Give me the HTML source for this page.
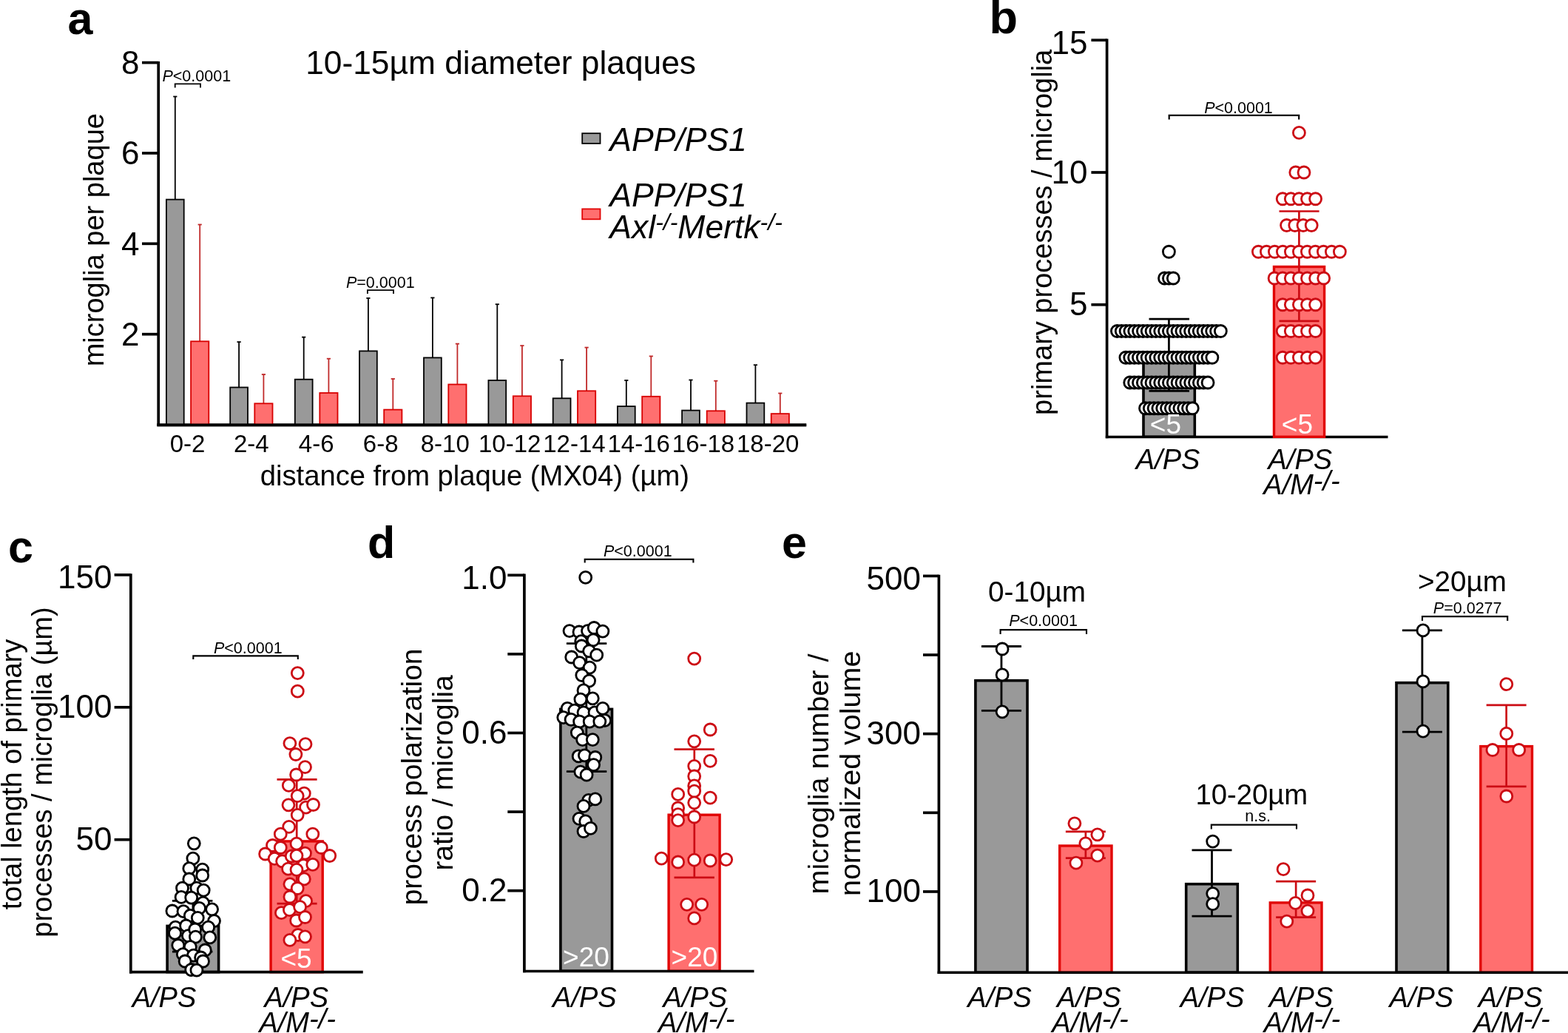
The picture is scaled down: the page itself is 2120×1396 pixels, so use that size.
<!DOCTYPE html><html><head><meta charset="utf-8"><style>html,body{margin:0;padding:0;background:#fff;}svg{display:block;}</style></head><body><svg width="2120" height="1396" viewBox="0 0 2120 1396" font-family="'Liberation Sans', Arial, Helvetica, sans-serif"><rect width="2120" height="1396" fill="#fff"/><text x="91.50" y="46.00" font-size="61" text-anchor="start" font-weight="bold" font-style="normal" fill="#000">a</text>
<line x1="214.20" y1="82.95" x2="214.20" y2="575.80" stroke="#000" stroke-width="3.7" stroke-linecap="butt"/>
<line x1="212.40" y1="574.30" x2="1090.20" y2="574.30" stroke="#000" stroke-width="3.7" stroke-linecap="butt"/>
<line x1="192.00" y1="84.64" x2="214.20" y2="84.64" stroke="#000" stroke-width="3.7" stroke-linecap="butt"/>
<text x="188.50" y="100.14" font-size="44" text-anchor="end" font-weight="normal" font-style="normal" fill="#000">8</text>
<line x1="192.00" y1="206.98" x2="214.20" y2="206.98" stroke="#000" stroke-width="3.7" stroke-linecap="butt"/>
<text x="188.50" y="222.48" font-size="44" text-anchor="end" font-weight="normal" font-style="normal" fill="#000">6</text>
<line x1="192.00" y1="329.32" x2="214.20" y2="329.32" stroke="#000" stroke-width="3.7" stroke-linecap="butt"/>
<text x="188.50" y="344.82" font-size="44" text-anchor="end" font-weight="normal" font-style="normal" fill="#000">4</text>
<line x1="192.00" y1="451.66" x2="214.20" y2="451.66" stroke="#000" stroke-width="3.7" stroke-linecap="butt"/>
<text x="188.50" y="467.16" font-size="44" text-anchor="end" font-weight="normal" font-style="normal" fill="#000">2</text>
<text x="140.20" y="324.20" font-size="38" text-anchor="middle" font-weight="normal" font-style="normal" fill="#000" transform="rotate(-90 140.20 324.20)">microglia per plaque</text>
<line x1="236.80" y1="130.40" x2="236.80" y2="269.70" stroke="#000" stroke-width="1.8" stroke-linecap="butt"/>
<line x1="234.20" y1="130.50" x2="239.40" y2="130.50" stroke="#000" stroke-width="1.8" stroke-linecap="butt"/>
<line x1="270.20" y1="303.40" x2="270.20" y2="461.40" stroke="#c02a2a" stroke-width="1.8" stroke-linecap="butt"/>
<line x1="267.60" y1="303.50" x2="272.80" y2="303.50" stroke="#c02a2a" stroke-width="1.8" stroke-linecap="butt"/>
<rect x="224.90" y="269.60" width="23.80" height="304.00" fill="#999999" stroke="#000" stroke-width="1.8"/>
<rect x="258.10" y="461.30" width="24.20" height="112.30" fill="#ff6f6f" stroke="#d80000" stroke-width="1.8"/>
<text x="253.60" y="610.80" font-size="33" text-anchor="middle" font-weight="normal" font-style="normal" fill="#000">0-2</text>
<line x1="323.10" y1="462.00" x2="323.10" y2="523.60" stroke="#000" stroke-width="1.8" stroke-linecap="butt"/>
<line x1="320.50" y1="462.10" x2="325.70" y2="462.10" stroke="#000" stroke-width="1.8" stroke-linecap="butt"/>
<line x1="356.40" y1="505.90" x2="356.40" y2="545.40" stroke="#c02a2a" stroke-width="1.8" stroke-linecap="butt"/>
<line x1="353.80" y1="506.00" x2="359.00" y2="506.00" stroke="#c02a2a" stroke-width="1.8" stroke-linecap="butt"/>
<rect x="311.20" y="523.50" width="23.80" height="50.10" fill="#999999" stroke="#000" stroke-width="1.8"/>
<rect x="344.30" y="545.30" width="24.20" height="28.30" fill="#ff6f6f" stroke="#d80000" stroke-width="1.8"/>
<text x="339.85" y="610.80" font-size="33" text-anchor="middle" font-weight="normal" font-style="normal" fill="#000">2-4</text>
<line x1="410.70" y1="455.50" x2="410.70" y2="512.80" stroke="#000" stroke-width="1.8" stroke-linecap="butt"/>
<line x1="408.10" y1="455.60" x2="413.30" y2="455.60" stroke="#000" stroke-width="1.8" stroke-linecap="butt"/>
<line x1="444.40" y1="484.60" x2="444.40" y2="531.10" stroke="#c02a2a" stroke-width="1.8" stroke-linecap="butt"/>
<line x1="441.80" y1="484.70" x2="447.00" y2="484.70" stroke="#c02a2a" stroke-width="1.8" stroke-linecap="butt"/>
<rect x="398.80" y="512.70" width="23.80" height="60.90" fill="#999999" stroke="#000" stroke-width="1.8"/>
<rect x="432.30" y="531.00" width="24.20" height="42.60" fill="#ff6f6f" stroke="#d80000" stroke-width="1.8"/>
<text x="427.65" y="610.80" font-size="33" text-anchor="middle" font-weight="normal" font-style="normal" fill="#000">4-6</text>
<line x1="497.90" y1="402.80" x2="497.90" y2="474.50" stroke="#000" stroke-width="1.8" stroke-linecap="butt"/>
<line x1="495.30" y1="402.90" x2="500.50" y2="402.90" stroke="#000" stroke-width="1.8" stroke-linecap="butt"/>
<line x1="531.30" y1="511.90" x2="531.30" y2="553.70" stroke="#c02a2a" stroke-width="1.8" stroke-linecap="butt"/>
<line x1="528.70" y1="512.00" x2="533.90" y2="512.00" stroke="#c02a2a" stroke-width="1.8" stroke-linecap="butt"/>
<rect x="486.00" y="474.40" width="23.80" height="99.20" fill="#999999" stroke="#000" stroke-width="1.8"/>
<rect x="519.20" y="553.60" width="24.20" height="20.00" fill="#ff6f6f" stroke="#d80000" stroke-width="1.8"/>
<text x="514.70" y="610.80" font-size="33" text-anchor="middle" font-weight="normal" font-style="normal" fill="#000">6-8</text>
<line x1="584.90" y1="402.30" x2="584.90" y2="483.50" stroke="#000" stroke-width="1.8" stroke-linecap="butt"/>
<line x1="582.30" y1="402.40" x2="587.50" y2="402.40" stroke="#000" stroke-width="1.8" stroke-linecap="butt"/>
<line x1="618.40" y1="464.50" x2="618.40" y2="519.60" stroke="#c02a2a" stroke-width="1.8" stroke-linecap="butt"/>
<line x1="615.80" y1="464.60" x2="621.00" y2="464.60" stroke="#c02a2a" stroke-width="1.8" stroke-linecap="butt"/>
<rect x="573.00" y="483.40" width="23.80" height="90.20" fill="#999999" stroke="#000" stroke-width="1.8"/>
<rect x="606.30" y="519.50" width="24.20" height="54.10" fill="#ff6f6f" stroke="#d80000" stroke-width="1.8"/>
<text x="601.75" y="610.80" font-size="33" text-anchor="middle" font-weight="normal" font-style="normal" fill="#000">8-10</text>
<line x1="672.30" y1="411.10" x2="672.30" y2="514.10" stroke="#000" stroke-width="1.8" stroke-linecap="butt"/>
<line x1="669.70" y1="411.20" x2="674.90" y2="411.20" stroke="#000" stroke-width="1.8" stroke-linecap="butt"/>
<line x1="705.90" y1="467.00" x2="705.90" y2="535.40" stroke="#c02a2a" stroke-width="1.8" stroke-linecap="butt"/>
<line x1="703.30" y1="467.10" x2="708.50" y2="467.10" stroke="#c02a2a" stroke-width="1.8" stroke-linecap="butt"/>
<rect x="660.40" y="514.00" width="23.80" height="59.60" fill="#999999" stroke="#000" stroke-width="1.8"/>
<rect x="693.80" y="535.30" width="24.20" height="38.30" fill="#ff6f6f" stroke="#d80000" stroke-width="1.8"/>
<text x="689.20" y="610.80" font-size="33" text-anchor="middle" font-weight="normal" font-style="normal" fill="#000">10-12</text>
<line x1="759.60" y1="486.30" x2="759.60" y2="538.40" stroke="#000" stroke-width="1.8" stroke-linecap="butt"/>
<line x1="757.00" y1="486.40" x2="762.20" y2="486.40" stroke="#000" stroke-width="1.8" stroke-linecap="butt"/>
<line x1="793.10" y1="469.50" x2="793.10" y2="528.40" stroke="#c02a2a" stroke-width="1.8" stroke-linecap="butt"/>
<line x1="790.50" y1="469.60" x2="795.70" y2="469.60" stroke="#c02a2a" stroke-width="1.8" stroke-linecap="butt"/>
<rect x="747.70" y="538.30" width="23.80" height="35.30" fill="#999999" stroke="#000" stroke-width="1.8"/>
<rect x="781.00" y="528.30" width="24.20" height="45.30" fill="#ff6f6f" stroke="#d80000" stroke-width="1.8"/>
<text x="776.45" y="610.80" font-size="33" text-anchor="middle" font-weight="normal" font-style="normal" fill="#000">12-14</text>
<line x1="846.80" y1="513.90" x2="846.80" y2="549.20" stroke="#000" stroke-width="1.8" stroke-linecap="butt"/>
<line x1="844.20" y1="514.00" x2="849.40" y2="514.00" stroke="#000" stroke-width="1.8" stroke-linecap="butt"/>
<line x1="880.30" y1="481.30" x2="880.30" y2="535.90" stroke="#c02a2a" stroke-width="1.8" stroke-linecap="butt"/>
<line x1="877.70" y1="481.40" x2="882.90" y2="481.40" stroke="#c02a2a" stroke-width="1.8" stroke-linecap="butt"/>
<rect x="834.90" y="549.10" width="23.80" height="24.50" fill="#999999" stroke="#000" stroke-width="1.8"/>
<rect x="868.20" y="535.80" width="24.20" height="37.80" fill="#ff6f6f" stroke="#d80000" stroke-width="1.8"/>
<text x="863.65" y="610.80" font-size="33" text-anchor="middle" font-weight="normal" font-style="normal" fill="#000">14-16</text>
<line x1="934.00" y1="513.40" x2="934.00" y2="554.70" stroke="#000" stroke-width="1.8" stroke-linecap="butt"/>
<line x1="931.40" y1="513.50" x2="936.60" y2="513.50" stroke="#000" stroke-width="1.8" stroke-linecap="butt"/>
<line x1="967.80" y1="514.60" x2="967.80" y2="555.40" stroke="#c02a2a" stroke-width="1.8" stroke-linecap="butt"/>
<line x1="965.20" y1="514.70" x2="970.40" y2="514.70" stroke="#c02a2a" stroke-width="1.8" stroke-linecap="butt"/>
<rect x="922.10" y="554.60" width="23.80" height="19.00" fill="#999999" stroke="#000" stroke-width="1.8"/>
<rect x="955.70" y="555.30" width="24.20" height="18.30" fill="#ff6f6f" stroke="#d80000" stroke-width="1.8"/>
<text x="951.00" y="610.80" font-size="33" text-anchor="middle" font-weight="normal" font-style="normal" fill="#000">16-18</text>
<line x1="1021.40" y1="493.10" x2="1021.40" y2="544.70" stroke="#000" stroke-width="1.8" stroke-linecap="butt"/>
<line x1="1018.80" y1="493.20" x2="1024.00" y2="493.20" stroke="#000" stroke-width="1.8" stroke-linecap="butt"/>
<line x1="1054.80" y1="531.40" x2="1054.80" y2="559.20" stroke="#c02a2a" stroke-width="1.8" stroke-linecap="butt"/>
<line x1="1052.20" y1="531.50" x2="1057.40" y2="531.50" stroke="#c02a2a" stroke-width="1.8" stroke-linecap="butt"/>
<rect x="1009.50" y="544.60" width="23.80" height="29.00" fill="#999999" stroke="#000" stroke-width="1.8"/>
<rect x="1042.70" y="559.10" width="24.20" height="14.50" fill="#ff6f6f" stroke="#d80000" stroke-width="1.8"/>
<text x="1038.20" y="610.80" font-size="33" text-anchor="middle" font-weight="normal" font-style="normal" fill="#000">18-20</text>
<line x1="212.40" y1="574.30" x2="1090.20" y2="574.30" stroke="#000" stroke-width="3.7" stroke-linecap="butt"/>
<text x="641.85" y="656.40" font-size="38.2" text-anchor="middle" font-weight="normal" font-style="normal" fill="#000">distance from plaque (MX04) (µm)</text>
<text x="677.10" y="100.20" font-size="44.3" text-anchor="middle" font-weight="normal" font-style="normal" fill="#000">10-15µm diameter plaques</text>
<rect x="787.20" y="180.20" width="24.30" height="13.70" fill="#999999" stroke="#000" stroke-width="1.8"/>
<rect x="787.20" y="282.40" width="24.30" height="13.90" fill="#ff6f6f" stroke="#e10505" stroke-width="1.8"/>
<text x="824.30" y="204.40" font-size="44.5" text-anchor="start" font-weight="normal" font-style="italic" fill="#000">APP/PS1</text>
<text x="824.30" y="278.60" font-size="44.5" text-anchor="start" font-weight="normal" font-style="italic" fill="#000">APP/PS1</text>
<text x="824.30" y="321.9" font-size="44.5" font-style="italic">Axl<tspan font-size="32" dy="-10.5">-/-</tspan><tspan dy="10.5">Mertk</tspan><tspan font-size="32" dy="-10.5">-/-</tspan></text>
<polyline points="236.70,118.40 236.70,113.40 271.00,113.40 271.00,118.40" fill="none" stroke="#000" stroke-width="1.8"/>
<text x="265.80" y="110.30" font-size="21.5" text-anchor="middle"><tspan font-style="italic">P</tspan>&lt;0.0001</text>
<polyline points="496.90,397.10 496.90,392.10 532.00,392.10 532.00,397.10" fill="none" stroke="#000" stroke-width="1.8"/>
<text x="514.30" y="388.50" font-size="21.5" text-anchor="middle"><tspan font-style="italic">P</tspan>=0.0001</text>
<text x="1337.50" y="45.20" font-size="63" text-anchor="start" font-weight="bold" font-style="normal" fill="#000">b</text>
<line x1="1496.60" y1="52.50" x2="1496.60" y2="592.30" stroke="#000" stroke-width="3.7" stroke-linecap="butt"/>
<line x1="1494.80" y1="590.50" x2="1876.50" y2="590.50" stroke="#000" stroke-width="3.7" stroke-linecap="butt"/>
<line x1="1475.40" y1="54.25" x2="1496.60" y2="54.25" stroke="#000" stroke-width="3.7" stroke-linecap="butt"/>
<text x="1470.50" y="72.75" font-size="44" text-anchor="end" font-weight="normal" font-style="normal" fill="#000">15</text>
<line x1="1475.40" y1="233.00" x2="1496.60" y2="233.00" stroke="#000" stroke-width="3.7" stroke-linecap="butt"/>
<text x="1470.50" y="247.50" font-size="44" text-anchor="end" font-weight="normal" font-style="normal" fill="#000">10</text>
<line x1="1475.40" y1="411.75" x2="1496.60" y2="411.75" stroke="#000" stroke-width="3.7" stroke-linecap="butt"/>
<text x="1470.50" y="426.25" font-size="44" text-anchor="end" font-weight="normal" font-style="normal" fill="#000">5</text>
<text x="1422.50" y="313.80" font-size="38" text-anchor="middle" font-weight="normal" font-style="normal" fill="#000" transform="rotate(-90 1422.50 313.80)">primary processes / microglia</text>
<rect x="1546.00" y="479.68" width="69.30" height="110.53" fill="#999999" stroke="#000" stroke-width="3.6"/>
<rect x="1722.50" y="360.50" width="68.10" height="229.80" fill="#ff6f6f" stroke="#e10505" stroke-width="3.4"/>
<line x1="1580.40" y1="431.10" x2="1580.40" y2="528.50" stroke="#000" stroke-width="2.8" stroke-linecap="butt"/>
<line x1="1553.50" y1="431.10" x2="1608.00" y2="431.10" stroke="#000" stroke-width="2.8" stroke-linecap="butt"/>
<line x1="1553.50" y1="528.30" x2="1608.00" y2="528.30" stroke="#000" stroke-width="2.8" stroke-linecap="butt"/>
<line x1="1756.40" y1="285.50" x2="1756.40" y2="433.80" stroke="#cc0c14" stroke-width="2.7" stroke-linecap="butt"/>
<line x1="1729.50" y1="285.50" x2="1783.60" y2="285.50" stroke="#cc0c14" stroke-width="2.7" stroke-linecap="butt"/>
<line x1="1729.50" y1="433.80" x2="1783.60" y2="433.80" stroke="#cc0c14" stroke-width="2.7" stroke-linecap="butt"/>
<circle cx="1580.40" cy="340.25" r="8.0" fill="#fff" stroke="#000" stroke-width="2.8"/>
<circle cx="1574.50" cy="376.00" r="8.0" fill="#fff" stroke="#000" stroke-width="2.8"/>
<circle cx="1580.40" cy="376.00" r="8.0" fill="#fff" stroke="#000" stroke-width="2.8"/>
<circle cx="1586.30" cy="376.00" r="8.0" fill="#fff" stroke="#000" stroke-width="2.8"/>
<circle cx="1510.44" cy="447.50" r="8.0" fill="#fff" stroke="#000" stroke-width="2.8"/>
<circle cx="1516.27" cy="447.50" r="8.0" fill="#fff" stroke="#000" stroke-width="2.8"/>
<circle cx="1522.10" cy="447.50" r="8.0" fill="#fff" stroke="#000" stroke-width="2.8"/>
<circle cx="1527.93" cy="447.50" r="8.0" fill="#fff" stroke="#000" stroke-width="2.8"/>
<circle cx="1533.76" cy="447.50" r="8.0" fill="#fff" stroke="#000" stroke-width="2.8"/>
<circle cx="1539.59" cy="447.50" r="8.0" fill="#fff" stroke="#000" stroke-width="2.8"/>
<circle cx="1545.42" cy="447.50" r="8.0" fill="#fff" stroke="#000" stroke-width="2.8"/>
<circle cx="1551.25" cy="447.50" r="8.0" fill="#fff" stroke="#000" stroke-width="2.8"/>
<circle cx="1557.08" cy="447.50" r="8.0" fill="#fff" stroke="#000" stroke-width="2.8"/>
<circle cx="1562.91" cy="447.50" r="8.0" fill="#fff" stroke="#000" stroke-width="2.8"/>
<circle cx="1568.74" cy="447.50" r="8.0" fill="#fff" stroke="#000" stroke-width="2.8"/>
<circle cx="1574.57" cy="447.50" r="8.0" fill="#fff" stroke="#000" stroke-width="2.8"/>
<circle cx="1580.40" cy="447.50" r="8.0" fill="#fff" stroke="#000" stroke-width="2.8"/>
<circle cx="1586.23" cy="447.50" r="8.0" fill="#fff" stroke="#000" stroke-width="2.8"/>
<circle cx="1592.06" cy="447.50" r="8.0" fill="#fff" stroke="#000" stroke-width="2.8"/>
<circle cx="1597.89" cy="447.50" r="8.0" fill="#fff" stroke="#000" stroke-width="2.8"/>
<circle cx="1603.72" cy="447.50" r="8.0" fill="#fff" stroke="#000" stroke-width="2.8"/>
<circle cx="1609.55" cy="447.50" r="8.0" fill="#fff" stroke="#000" stroke-width="2.8"/>
<circle cx="1615.38" cy="447.50" r="8.0" fill="#fff" stroke="#000" stroke-width="2.8"/>
<circle cx="1621.21" cy="447.50" r="8.0" fill="#fff" stroke="#000" stroke-width="2.8"/>
<circle cx="1627.04" cy="447.50" r="8.0" fill="#fff" stroke="#000" stroke-width="2.8"/>
<circle cx="1632.87" cy="447.50" r="8.0" fill="#fff" stroke="#000" stroke-width="2.8"/>
<circle cx="1638.70" cy="447.50" r="8.0" fill="#fff" stroke="#000" stroke-width="2.8"/>
<circle cx="1644.53" cy="447.50" r="8.0" fill="#fff" stroke="#000" stroke-width="2.8"/>
<circle cx="1650.36" cy="447.50" r="8.0" fill="#fff" stroke="#000" stroke-width="2.8"/>
<circle cx="1521.90" cy="483.25" r="8.0" fill="#fff" stroke="#000" stroke-width="2.8"/>
<circle cx="1527.75" cy="483.25" r="8.0" fill="#fff" stroke="#000" stroke-width="2.8"/>
<circle cx="1533.60" cy="483.25" r="8.0" fill="#fff" stroke="#000" stroke-width="2.8"/>
<circle cx="1539.45" cy="483.25" r="8.0" fill="#fff" stroke="#000" stroke-width="2.8"/>
<circle cx="1545.30" cy="483.25" r="8.0" fill="#fff" stroke="#000" stroke-width="2.8"/>
<circle cx="1551.15" cy="483.25" r="8.0" fill="#fff" stroke="#000" stroke-width="2.8"/>
<circle cx="1557.00" cy="483.25" r="8.0" fill="#fff" stroke="#000" stroke-width="2.8"/>
<circle cx="1562.85" cy="483.25" r="8.0" fill="#fff" stroke="#000" stroke-width="2.8"/>
<circle cx="1568.70" cy="483.25" r="8.0" fill="#fff" stroke="#000" stroke-width="2.8"/>
<circle cx="1574.55" cy="483.25" r="8.0" fill="#fff" stroke="#000" stroke-width="2.8"/>
<circle cx="1580.40" cy="483.25" r="8.0" fill="#fff" stroke="#000" stroke-width="2.8"/>
<circle cx="1586.25" cy="483.25" r="8.0" fill="#fff" stroke="#000" stroke-width="2.8"/>
<circle cx="1592.10" cy="483.25" r="8.0" fill="#fff" stroke="#000" stroke-width="2.8"/>
<circle cx="1597.95" cy="483.25" r="8.0" fill="#fff" stroke="#000" stroke-width="2.8"/>
<circle cx="1603.80" cy="483.25" r="8.0" fill="#fff" stroke="#000" stroke-width="2.8"/>
<circle cx="1609.65" cy="483.25" r="8.0" fill="#fff" stroke="#000" stroke-width="2.8"/>
<circle cx="1615.50" cy="483.25" r="8.0" fill="#fff" stroke="#000" stroke-width="2.8"/>
<circle cx="1621.35" cy="483.25" r="8.0" fill="#fff" stroke="#000" stroke-width="2.8"/>
<circle cx="1627.20" cy="483.25" r="8.0" fill="#fff" stroke="#000" stroke-width="2.8"/>
<circle cx="1633.05" cy="483.25" r="8.0" fill="#fff" stroke="#000" stroke-width="2.8"/>
<circle cx="1638.90" cy="483.25" r="8.0" fill="#fff" stroke="#000" stroke-width="2.8"/>
<circle cx="1527.75" cy="517.00" r="8.0" fill="#fff" stroke="#000" stroke-width="2.8"/>
<circle cx="1533.60" cy="517.00" r="8.0" fill="#fff" stroke="#000" stroke-width="2.8"/>
<circle cx="1539.45" cy="517.00" r="8.0" fill="#fff" stroke="#000" stroke-width="2.8"/>
<circle cx="1545.30" cy="517.00" r="8.0" fill="#fff" stroke="#000" stroke-width="2.8"/>
<circle cx="1551.15" cy="517.00" r="8.0" fill="#fff" stroke="#000" stroke-width="2.8"/>
<circle cx="1557.00" cy="517.00" r="8.0" fill="#fff" stroke="#000" stroke-width="2.8"/>
<circle cx="1562.85" cy="517.00" r="8.0" fill="#fff" stroke="#000" stroke-width="2.8"/>
<circle cx="1568.70" cy="517.00" r="8.0" fill="#fff" stroke="#000" stroke-width="2.8"/>
<circle cx="1574.55" cy="517.00" r="8.0" fill="#fff" stroke="#000" stroke-width="2.8"/>
<circle cx="1580.40" cy="517.00" r="8.0" fill="#fff" stroke="#000" stroke-width="2.8"/>
<circle cx="1586.25" cy="517.00" r="8.0" fill="#fff" stroke="#000" stroke-width="2.8"/>
<circle cx="1592.10" cy="517.00" r="8.0" fill="#fff" stroke="#000" stroke-width="2.8"/>
<circle cx="1597.95" cy="517.00" r="8.0" fill="#fff" stroke="#000" stroke-width="2.8"/>
<circle cx="1603.80" cy="517.00" r="8.0" fill="#fff" stroke="#000" stroke-width="2.8"/>
<circle cx="1609.65" cy="517.00" r="8.0" fill="#fff" stroke="#000" stroke-width="2.8"/>
<circle cx="1615.50" cy="517.00" r="8.0" fill="#fff" stroke="#000" stroke-width="2.8"/>
<circle cx="1621.35" cy="517.00" r="8.0" fill="#fff" stroke="#000" stroke-width="2.8"/>
<circle cx="1627.20" cy="517.00" r="8.0" fill="#fff" stroke="#000" stroke-width="2.8"/>
<circle cx="1633.05" cy="517.00" r="8.0" fill="#fff" stroke="#000" stroke-width="2.8"/>
<circle cx="1548.50" cy="551.75" r="8.0" fill="#fff" stroke="#000" stroke-width="2.8"/>
<circle cx="1554.30" cy="551.75" r="8.0" fill="#fff" stroke="#000" stroke-width="2.8"/>
<circle cx="1560.10" cy="551.75" r="8.0" fill="#fff" stroke="#000" stroke-width="2.8"/>
<circle cx="1565.90" cy="551.75" r="8.0" fill="#fff" stroke="#000" stroke-width="2.8"/>
<circle cx="1571.70" cy="551.75" r="8.0" fill="#fff" stroke="#000" stroke-width="2.8"/>
<circle cx="1577.50" cy="551.75" r="8.0" fill="#fff" stroke="#000" stroke-width="2.8"/>
<circle cx="1583.30" cy="551.75" r="8.0" fill="#fff" stroke="#000" stroke-width="2.8"/>
<circle cx="1589.10" cy="551.75" r="8.0" fill="#fff" stroke="#000" stroke-width="2.8"/>
<circle cx="1594.90" cy="551.75" r="8.0" fill="#fff" stroke="#000" stroke-width="2.8"/>
<circle cx="1600.70" cy="551.75" r="8.0" fill="#fff" stroke="#000" stroke-width="2.8"/>
<circle cx="1606.50" cy="551.75" r="8.0" fill="#fff" stroke="#000" stroke-width="2.8"/>
<circle cx="1612.30" cy="551.75" r="8.0" fill="#fff" stroke="#000" stroke-width="2.8"/>
<circle cx="1756.40" cy="179.38" r="8.0" fill="#fff" stroke="#cc0c14" stroke-width="2.8"/>
<circle cx="1751.80" cy="233.00" r="8.0" fill="#fff" stroke="#cc0c14" stroke-width="2.8"/>
<circle cx="1763.00" cy="233.00" r="8.0" fill="#fff" stroke="#cc0c14" stroke-width="2.8"/>
<circle cx="1734.20" cy="268.75" r="8.0" fill="#fff" stroke="#cc0c14" stroke-width="2.8"/>
<circle cx="1745.30" cy="268.75" r="8.0" fill="#fff" stroke="#cc0c14" stroke-width="2.8"/>
<circle cx="1756.40" cy="268.75" r="8.0" fill="#fff" stroke="#cc0c14" stroke-width="2.8"/>
<circle cx="1767.50" cy="268.75" r="8.0" fill="#fff" stroke="#cc0c14" stroke-width="2.8"/>
<circle cx="1778.60" cy="268.75" r="8.0" fill="#fff" stroke="#cc0c14" stroke-width="2.8"/>
<circle cx="1739.60" cy="304.50" r="8.0" fill="#fff" stroke="#cc0c14" stroke-width="2.8"/>
<circle cx="1750.80" cy="304.50" r="8.0" fill="#fff" stroke="#cc0c14" stroke-width="2.8"/>
<circle cx="1762.00" cy="304.50" r="8.0" fill="#fff" stroke="#cc0c14" stroke-width="2.8"/>
<circle cx="1773.20" cy="304.50" r="8.0" fill="#fff" stroke="#cc0c14" stroke-width="2.8"/>
<circle cx="1701.40" cy="340.25" r="8.0" fill="#fff" stroke="#cc0c14" stroke-width="2.8"/>
<circle cx="1712.40" cy="340.25" r="8.0" fill="#fff" stroke="#cc0c14" stroke-width="2.8"/>
<circle cx="1723.40" cy="340.25" r="8.0" fill="#fff" stroke="#cc0c14" stroke-width="2.8"/>
<circle cx="1734.40" cy="340.25" r="8.0" fill="#fff" stroke="#cc0c14" stroke-width="2.8"/>
<circle cx="1745.40" cy="340.25" r="8.0" fill="#fff" stroke="#cc0c14" stroke-width="2.8"/>
<circle cx="1756.40" cy="340.25" r="8.0" fill="#fff" stroke="#cc0c14" stroke-width="2.8"/>
<circle cx="1767.40" cy="340.25" r="8.0" fill="#fff" stroke="#cc0c14" stroke-width="2.8"/>
<circle cx="1778.40" cy="340.25" r="8.0" fill="#fff" stroke="#cc0c14" stroke-width="2.8"/>
<circle cx="1789.40" cy="340.25" r="8.0" fill="#fff" stroke="#cc0c14" stroke-width="2.8"/>
<circle cx="1800.40" cy="340.25" r="8.0" fill="#fff" stroke="#cc0c14" stroke-width="2.8"/>
<circle cx="1811.40" cy="340.25" r="8.0" fill="#fff" stroke="#cc0c14" stroke-width="2.8"/>
<circle cx="1723.10" cy="376.00" r="8.0" fill="#fff" stroke="#cc0c14" stroke-width="2.8"/>
<circle cx="1734.20" cy="376.00" r="8.0" fill="#fff" stroke="#cc0c14" stroke-width="2.8"/>
<circle cx="1745.30" cy="376.00" r="8.0" fill="#fff" stroke="#cc0c14" stroke-width="2.8"/>
<circle cx="1756.40" cy="376.00" r="8.0" fill="#fff" stroke="#cc0c14" stroke-width="2.8"/>
<circle cx="1767.50" cy="376.00" r="8.0" fill="#fff" stroke="#cc0c14" stroke-width="2.8"/>
<circle cx="1778.60" cy="376.00" r="8.0" fill="#fff" stroke="#cc0c14" stroke-width="2.8"/>
<circle cx="1789.70" cy="376.00" r="8.0" fill="#fff" stroke="#cc0c14" stroke-width="2.8"/>
<circle cx="1734.20" cy="411.75" r="8.0" fill="#fff" stroke="#cc0c14" stroke-width="2.8"/>
<circle cx="1745.30" cy="411.75" r="8.0" fill="#fff" stroke="#cc0c14" stroke-width="2.8"/>
<circle cx="1756.40" cy="411.75" r="8.0" fill="#fff" stroke="#cc0c14" stroke-width="2.8"/>
<circle cx="1767.50" cy="411.75" r="8.0" fill="#fff" stroke="#cc0c14" stroke-width="2.8"/>
<circle cx="1778.60" cy="411.75" r="8.0" fill="#fff" stroke="#cc0c14" stroke-width="2.8"/>
<circle cx="1734.20" cy="447.50" r="8.0" fill="#fff" stroke="#cc0c14" stroke-width="2.8"/>
<circle cx="1745.30" cy="447.50" r="8.0" fill="#fff" stroke="#cc0c14" stroke-width="2.8"/>
<circle cx="1756.40" cy="447.50" r="8.0" fill="#fff" stroke="#cc0c14" stroke-width="2.8"/>
<circle cx="1767.50" cy="447.50" r="8.0" fill="#fff" stroke="#cc0c14" stroke-width="2.8"/>
<circle cx="1778.60" cy="447.50" r="8.0" fill="#fff" stroke="#cc0c14" stroke-width="2.8"/>
<circle cx="1734.20" cy="483.25" r="8.0" fill="#fff" stroke="#cc0c14" stroke-width="2.8"/>
<circle cx="1745.30" cy="483.25" r="8.0" fill="#fff" stroke="#cc0c14" stroke-width="2.8"/>
<circle cx="1756.40" cy="483.25" r="8.0" fill="#fff" stroke="#cc0c14" stroke-width="2.8"/>
<circle cx="1767.50" cy="483.25" r="8.0" fill="#fff" stroke="#cc0c14" stroke-width="2.8"/>
<circle cx="1778.60" cy="483.25" r="8.0" fill="#fff" stroke="#cc0c14" stroke-width="2.8"/>
<text x="1575.90" y="585.60" font-size="37" text-anchor="middle" font-weight="normal" font-style="normal" fill="#fff">&lt;5</text>
<text x="1753.90" y="585.80" font-size="37" text-anchor="middle" font-weight="normal" font-style="normal" fill="#fff">&lt;5</text>
<polyline points="1580.70,161.40 1580.70,155.90 1756.20,155.90 1756.20,161.40" fill="none" stroke="#000" stroke-width="2.2"/>
<text x="1674.50" y="152.90" font-size="21.5" text-anchor="middle"><tspan font-style="italic">P</tspan>&lt;0.0001</text>
<text x="1579.10" y="634.20" font-size="38" text-anchor="middle" font-weight="normal" font-style="italic" fill="#000">A/PS</text>
<text x="1757.80" y="634.20" font-size="38" text-anchor="middle" font-weight="normal" font-style="italic" fill="#000">A/PS</text>
<text x="1760" y="667.6" font-size="38" font-style="italic" text-anchor="middle">A/M<tspan dy="-5">-/-</tspan></text>
<text x="11.00" y="759.50" font-size="61" text-anchor="start" font-weight="bold" font-style="normal" fill="#000">c</text>
<line x1="176.80" y1="775.15" x2="176.80" y2="1315.40" stroke="#000" stroke-width="3.7" stroke-linecap="butt"/>
<line x1="154.60" y1="776.90" x2="176.80" y2="776.90" stroke="#000" stroke-width="3.7" stroke-linecap="butt"/>
<text x="151.50" y="795.40" font-size="44" text-anchor="end" font-weight="normal" font-style="normal" fill="#000">150</text>
<line x1="154.60" y1="955.80" x2="176.80" y2="955.80" stroke="#000" stroke-width="3.7" stroke-linecap="butt"/>
<text x="151.50" y="970.30" font-size="44" text-anchor="end" font-weight="normal" font-style="normal" fill="#000">100</text>
<line x1="154.60" y1="1134.70" x2="176.80" y2="1134.70" stroke="#000" stroke-width="3.7" stroke-linecap="butt"/>
<text x="151.50" y="1149.20" font-size="44" text-anchor="end" font-weight="normal" font-style="normal" fill="#000">50</text>
<text x="29.00" y="1046.50" font-size="38" text-anchor="middle" font-weight="normal" font-style="normal" fill="#000" transform="rotate(-90 29.00 1046.50)">total length of primary</text>
<text x="70.00" y="1043.50" font-size="38" text-anchor="middle" font-weight="normal" font-style="normal" fill="#000" transform="rotate(-90 70.00 1043.50)">processes / microglia (µm)</text>
<rect x="226.10" y="1251.40" width="69.50" height="62.20" fill="#999999" stroke="#000" stroke-width="3.6"/>
<rect x="366.10" y="1136.90" width="70.10" height="176.80" fill="#ff6f6f" stroke="#e10505" stroke-width="3.4"/>
<line x1="260.90" y1="1217.40" x2="260.90" y2="1286.10" stroke="#000" stroke-width="2.8" stroke-linecap="butt"/>
<line x1="232.90" y1="1217.40" x2="287.40" y2="1217.40" stroke="#000" stroke-width="2.8" stroke-linecap="butt"/>
<line x1="232.90" y1="1286.10" x2="287.40" y2="1286.10" stroke="#000" stroke-width="2.8" stroke-linecap="butt"/>
<line x1="401.20" y1="1053.30" x2="401.20" y2="1221.10" stroke="#cc0c14" stroke-width="2.7" stroke-linecap="butt"/>
<line x1="374.50" y1="1053.30" x2="428.60" y2="1053.30" stroke="#cc0c14" stroke-width="2.7" stroke-linecap="butt"/>
<line x1="374.50" y1="1221.10" x2="428.60" y2="1221.10" stroke="#cc0c14" stroke-width="2.7" stroke-linecap="butt"/>
<line x1="175.00" y1="1313.60" x2="490.75" y2="1313.60" stroke="#000" stroke-width="3.8" stroke-linecap="butt"/>
<circle cx="262.30" cy="1139.80" r="8.0" fill="#fff" stroke="#000" stroke-width="2.8"/>
<circle cx="260.90" cy="1160.10" r="8.0" fill="#fff" stroke="#000" stroke-width="2.8"/>
<circle cx="255.80" cy="1173.70" r="8.0" fill="#fff" stroke="#000" stroke-width="2.8"/>
<circle cx="273.70" cy="1175.10" r="8.0" fill="#fff" stroke="#000" stroke-width="2.8"/>
<circle cx="273.70" cy="1183.00" r="8.0" fill="#fff" stroke="#000" stroke-width="2.8"/>
<circle cx="255.80" cy="1188.00" r="8.0" fill="#fff" stroke="#000" stroke-width="2.8"/>
<circle cx="246.50" cy="1200.20" r="8.0" fill="#fff" stroke="#000" stroke-width="2.8"/>
<circle cx="265.90" cy="1200.20" r="8.0" fill="#fff" stroke="#000" stroke-width="2.8"/>
<circle cx="275.20" cy="1203.10" r="8.0" fill="#fff" stroke="#000" stroke-width="2.8"/>
<circle cx="245.10" cy="1212.40" r="8.0" fill="#fff" stroke="#000" stroke-width="2.8"/>
<circle cx="258.70" cy="1213.10" r="8.0" fill="#fff" stroke="#000" stroke-width="2.8"/>
<circle cx="274.50" cy="1220.20" r="8.0" fill="#fff" stroke="#000" stroke-width="2.8"/>
<circle cx="232.90" cy="1231.00" r="8.0" fill="#fff" stroke="#000" stroke-width="2.8"/>
<circle cx="248.00" cy="1231.70" r="8.0" fill="#fff" stroke="#000" stroke-width="2.8"/>
<circle cx="269.50" cy="1227.40" r="8.0" fill="#fff" stroke="#000" stroke-width="2.8"/>
<circle cx="286.60" cy="1228.80" r="8.0" fill="#fff" stroke="#000" stroke-width="2.8"/>
<circle cx="257.30" cy="1237.40" r="8.0" fill="#fff" stroke="#000" stroke-width="2.8"/>
<circle cx="267.30" cy="1240.30" r="8.0" fill="#fff" stroke="#000" stroke-width="2.8"/>
<circle cx="289.50" cy="1244.60" r="8.0" fill="#fff" stroke="#000" stroke-width="2.8"/>
<circle cx="237.20" cy="1253.20" r="8.0" fill="#fff" stroke="#000" stroke-width="2.8"/>
<circle cx="251.60" cy="1251.00" r="8.0" fill="#fff" stroke="#000" stroke-width="2.8"/>
<circle cx="281.60" cy="1253.20" r="8.0" fill="#fff" stroke="#000" stroke-width="2.8"/>
<circle cx="236.50" cy="1261.10" r="8.0" fill="#fff" stroke="#000" stroke-width="2.8"/>
<circle cx="254.40" cy="1264.60" r="8.0" fill="#fff" stroke="#000" stroke-width="2.8"/>
<circle cx="263.70" cy="1256.00" r="8.0" fill="#fff" stroke="#000" stroke-width="2.8"/>
<circle cx="264.40" cy="1266.10" r="8.0" fill="#fff" stroke="#000" stroke-width="2.8"/>
<circle cx="283.80" cy="1266.80" r="8.0" fill="#fff" stroke="#000" stroke-width="2.8"/>
<circle cx="240.80" cy="1277.50" r="8.0" fill="#fff" stroke="#000" stroke-width="2.8"/>
<circle cx="257.30" cy="1279.70" r="8.0" fill="#fff" stroke="#000" stroke-width="2.8"/>
<circle cx="277.30" cy="1284.00" r="8.0" fill="#fff" stroke="#000" stroke-width="2.8"/>
<circle cx="247.30" cy="1289.70" r="8.0" fill="#fff" stroke="#000" stroke-width="2.8"/>
<circle cx="261.60" cy="1291.10" r="8.0" fill="#fff" stroke="#000" stroke-width="2.8"/>
<circle cx="271.60" cy="1294.00" r="8.0" fill="#fff" stroke="#000" stroke-width="2.8"/>
<circle cx="250.10" cy="1299.00" r="8.0" fill="#fff" stroke="#000" stroke-width="2.8"/>
<circle cx="274.50" cy="1299.00" r="8.0" fill="#fff" stroke="#000" stroke-width="2.8"/>
<circle cx="258.70" cy="1310.50" r="8.0" fill="#fff" stroke="#000" stroke-width="2.8"/>
<circle cx="265.90" cy="1311.20" r="8.0" fill="#fff" stroke="#000" stroke-width="2.8"/>
<circle cx="402.30" cy="909.60" r="8.0" fill="#fff" stroke="#cc0c14" stroke-width="2.8"/>
<circle cx="402.30" cy="934.20" r="8.0" fill="#fff" stroke="#cc0c14" stroke-width="2.8"/>
<circle cx="391.90" cy="1004.60" r="8.0" fill="#fff" stroke="#cc0c14" stroke-width="2.8"/>
<circle cx="413.00" cy="1005.70" r="8.0" fill="#fff" stroke="#cc0c14" stroke-width="2.8"/>
<circle cx="399.90" cy="1019.50" r="8.0" fill="#fff" stroke="#cc0c14" stroke-width="2.8"/>
<circle cx="412.50" cy="1036.70" r="8.0" fill="#fff" stroke="#cc0c14" stroke-width="2.8"/>
<circle cx="400.60" cy="1047.00" r="8.0" fill="#fff" stroke="#cc0c14" stroke-width="2.8"/>
<circle cx="390.30" cy="1061.40" r="8.0" fill="#fff" stroke="#cc0c14" stroke-width="2.8"/>
<circle cx="411.30" cy="1072.20" r="8.0" fill="#fff" stroke="#cc0c14" stroke-width="2.8"/>
<circle cx="402.20" cy="1075.60" r="8.0" fill="#fff" stroke="#cc0c14" stroke-width="2.8"/>
<circle cx="390.00" cy="1087.80" r="8.0" fill="#fff" stroke="#cc0c14" stroke-width="2.8"/>
<circle cx="413.60" cy="1091.20" r="8.0" fill="#fff" stroke="#cc0c14" stroke-width="2.8"/>
<circle cx="423.50" cy="1087.50" r="8.0" fill="#fff" stroke="#cc0c14" stroke-width="2.8"/>
<circle cx="402.20" cy="1101.30" r="8.0" fill="#fff" stroke="#cc0c14" stroke-width="2.8"/>
<circle cx="390.70" cy="1117.30" r="8.0" fill="#fff" stroke="#cc0c14" stroke-width="2.8"/>
<circle cx="379.30" cy="1127.20" r="8.0" fill="#fff" stroke="#cc0c14" stroke-width="2.8"/>
<circle cx="422.80" cy="1127.20" r="8.0" fill="#fff" stroke="#cc0c14" stroke-width="2.8"/>
<circle cx="368.50" cy="1142.50" r="8.0" fill="#fff" stroke="#cc0c14" stroke-width="2.8"/>
<circle cx="401.00" cy="1140.20" r="8.0" fill="#fff" stroke="#cc0c14" stroke-width="2.8"/>
<circle cx="358.60" cy="1154.00" r="8.0" fill="#fff" stroke="#cc0c14" stroke-width="2.8"/>
<circle cx="379.30" cy="1145.50" r="8.0" fill="#fff" stroke="#cc0c14" stroke-width="2.8"/>
<circle cx="412.50" cy="1153.10" r="8.0" fill="#fff" stroke="#cc0c14" stroke-width="2.8"/>
<circle cx="434.30" cy="1145.50" r="8.0" fill="#fff" stroke="#cc0c14" stroke-width="2.8"/>
<circle cx="371.20" cy="1160.40" r="8.0" fill="#fff" stroke="#cc0c14" stroke-width="2.8"/>
<circle cx="381.60" cy="1163.80" r="8.0" fill="#fff" stroke="#cc0c14" stroke-width="2.8"/>
<circle cx="394.20" cy="1157.00" r="8.0" fill="#fff" stroke="#cc0c14" stroke-width="2.8"/>
<circle cx="401.00" cy="1156.30" r="8.0" fill="#fff" stroke="#cc0c14" stroke-width="2.8"/>
<circle cx="445.70" cy="1156.50" r="8.0" fill="#fff" stroke="#cc0c14" stroke-width="2.8"/>
<circle cx="389.60" cy="1174.20" r="8.0" fill="#fff" stroke="#cc0c14" stroke-width="2.8"/>
<circle cx="410.20" cy="1169.60" r="8.0" fill="#fff" stroke="#cc0c14" stroke-width="2.8"/>
<circle cx="422.80" cy="1168.40" r="8.0" fill="#fff" stroke="#cc0c14" stroke-width="2.8"/>
<circle cx="401.00" cy="1175.30" r="8.0" fill="#fff" stroke="#cc0c14" stroke-width="2.8"/>
<circle cx="391.90" cy="1194.80" r="8.0" fill="#fff" stroke="#cc0c14" stroke-width="2.8"/>
<circle cx="411.30" cy="1187.90" r="8.0" fill="#fff" stroke="#cc0c14" stroke-width="2.8"/>
<circle cx="402.20" cy="1200.50" r="8.0" fill="#fff" stroke="#cc0c14" stroke-width="2.8"/>
<circle cx="391.90" cy="1212.00" r="8.0" fill="#fff" stroke="#cc0c14" stroke-width="2.8"/>
<circle cx="413.60" cy="1217.70" r="8.0" fill="#fff" stroke="#cc0c14" stroke-width="2.8"/>
<circle cx="380.40" cy="1233.70" r="8.0" fill="#fff" stroke="#cc0c14" stroke-width="2.8"/>
<circle cx="391.40" cy="1229.60" r="8.0" fill="#fff" stroke="#cc0c14" stroke-width="2.8"/>
<circle cx="405.60" cy="1225.70" r="8.0" fill="#fff" stroke="#cc0c14" stroke-width="2.8"/>
<circle cx="400.60" cy="1244.00" r="8.0" fill="#fff" stroke="#cc0c14" stroke-width="2.8"/>
<circle cx="412.50" cy="1239.50" r="8.0" fill="#fff" stroke="#cc0c14" stroke-width="2.8"/>
<circle cx="402.90" cy="1263.50" r="8.0" fill="#fff" stroke="#cc0c14" stroke-width="2.8"/>
<circle cx="391.90" cy="1270.40" r="8.0" fill="#fff" stroke="#cc0c14" stroke-width="2.8"/>
<circle cx="412.50" cy="1265.80" r="8.0" fill="#fff" stroke="#cc0c14" stroke-width="2.8"/>
<text x="400.50" y="1308.20" font-size="37" text-anchor="middle" font-weight="normal" font-style="normal" fill="#fff">&lt;5</text>
<polyline points="261.30,890.90 261.30,886.40 402.80,886.40 402.80,890.90" fill="none" stroke="#000" stroke-width="2.1"/>
<text x="335.30" y="883.10" font-size="21.5" text-anchor="middle"><tspan font-style="italic">P</tspan>&lt;0.0001</text>
<text x="222.00" y="1360.60" font-size="38" text-anchor="middle" font-weight="normal" font-style="italic" fill="#000">A/PS</text>
<text x="400.70" y="1360.60" font-size="38" text-anchor="middle" font-weight="normal" font-style="italic" fill="#000">A/PS</text>
<text x="402.1" y="1394.5" font-size="38" font-style="italic" text-anchor="middle">A/M<tspan dy="-5">-/-</tspan></text>
<text x="497.00" y="754.00" font-size="61" text-anchor="start" font-weight="bold" font-style="normal" fill="#000">d</text>
<line x1="708.90" y1="775.55" x2="708.90" y2="1314.30" stroke="#000" stroke-width="3.7" stroke-linecap="butt"/>
<line x1="686.30" y1="777.30" x2="708.90" y2="777.30" stroke="#000" stroke-width="3.7" stroke-linecap="butt"/>
<text x="685.50" y="795.80" font-size="44" text-anchor="end" font-weight="normal" font-style="normal" fill="#000">1.0</text>
<line x1="686.30" y1="883.90" x2="708.90" y2="883.90" stroke="#000" stroke-width="3.7" stroke-linecap="butt"/>
<line x1="686.30" y1="990.50" x2="708.90" y2="990.50" stroke="#000" stroke-width="3.7" stroke-linecap="butt"/>
<text x="685.50" y="1005.00" font-size="44" text-anchor="end" font-weight="normal" font-style="normal" fill="#000">0.6</text>
<line x1="686.30" y1="1097.10" x2="708.90" y2="1097.10" stroke="#000" stroke-width="3.7" stroke-linecap="butt"/>
<line x1="686.30" y1="1203.70" x2="708.90" y2="1203.70" stroke="#000" stroke-width="3.7" stroke-linecap="butt"/>
<text x="685.50" y="1218.20" font-size="44" text-anchor="end" font-weight="normal" font-style="normal" fill="#000">0.2</text>
<text x="570.20" y="1049.90" font-size="39" text-anchor="middle" font-weight="normal" font-style="normal" fill="#000" transform="rotate(-90 570.20 1049.90)">process polarization</text>
<text x="611.80" y="1044.40" font-size="39" text-anchor="middle" font-weight="normal" font-style="normal" fill="#000" transform="rotate(-90 611.80 1044.40)">ratio / microglia</text>
<rect x="757.90" y="958.40" width="69.60" height="353.80" fill="#999999" stroke="#000" stroke-width="3.6"/>
<rect x="904.10" y="1101.20" width="69.00" height="211.10" fill="#ff6f6f" stroke="#e10505" stroke-width="3.4"/>
<line x1="792.80" y1="869.70" x2="792.80" y2="1042.60" stroke="#000" stroke-width="2.8" stroke-linecap="butt"/>
<line x1="765.90" y1="869.70" x2="820.30" y2="869.70" stroke="#000" stroke-width="2.8" stroke-linecap="butt"/>
<line x1="765.90" y1="1042.60" x2="820.30" y2="1042.60" stroke="#000" stroke-width="2.8" stroke-linecap="butt"/>
<line x1="938.80" y1="1012.60" x2="938.80" y2="1185.90" stroke="#cc0c14" stroke-width="2.7" stroke-linecap="butt"/>
<line x1="911.50" y1="1012.60" x2="965.90" y2="1012.60" stroke="#cc0c14" stroke-width="2.7" stroke-linecap="butt"/>
<line x1="911.50" y1="1185.90" x2="965.90" y2="1185.90" stroke="#cc0c14" stroke-width="2.7" stroke-linecap="butt"/>
<circle cx="791.70" cy="780.40" r="8.0" fill="#fff" stroke="#000" stroke-width="2.8"/>
<circle cx="770.00" cy="852.60" r="8.0" fill="#fff" stroke="#000" stroke-width="2.8"/>
<circle cx="783.00" cy="854.00" r="8.0" fill="#fff" stroke="#000" stroke-width="2.8"/>
<circle cx="794.50" cy="852.60" r="8.0" fill="#fff" stroke="#000" stroke-width="2.8"/>
<circle cx="803.20" cy="848.50" r="8.0" fill="#fff" stroke="#000" stroke-width="2.8"/>
<circle cx="814.90" cy="853.10" r="8.0" fill="#fff" stroke="#000" stroke-width="2.8"/>
<circle cx="802.10" cy="864.80" r="8.0" fill="#fff" stroke="#000" stroke-width="2.8"/>
<circle cx="785.70" cy="866.70" r="8.0" fill="#fff" stroke="#000" stroke-width="2.8"/>
<circle cx="786.30" cy="873.00" r="8.0" fill="#fff" stroke="#000" stroke-width="2.8"/>
<circle cx="796.60" cy="879.80" r="8.0" fill="#fff" stroke="#000" stroke-width="2.8"/>
<circle cx="772.70" cy="888.00" r="8.0" fill="#fff" stroke="#000" stroke-width="2.8"/>
<circle cx="806.70" cy="885.20" r="8.0" fill="#fff" stroke="#000" stroke-width="2.8"/>
<circle cx="783.60" cy="895.60" r="8.0" fill="#fff" stroke="#000" stroke-width="2.8"/>
<circle cx="797.20" cy="902.10" r="8.0" fill="#fff" stroke="#000" stroke-width="2.8"/>
<circle cx="786.80" cy="912.50" r="8.0" fill="#fff" stroke="#000" stroke-width="2.8"/>
<circle cx="796.60" cy="920.10" r="8.0" fill="#fff" stroke="#000" stroke-width="2.8"/>
<circle cx="789.00" cy="932.90" r="8.0" fill="#fff" stroke="#000" stroke-width="2.8"/>
<circle cx="801.30" cy="943.80" r="8.0" fill="#fff" stroke="#000" stroke-width="2.8"/>
<circle cx="784.90" cy="945.10" r="8.0" fill="#fff" stroke="#000" stroke-width="2.8"/>
<circle cx="767.20" cy="957.40" r="8.0" fill="#fff" stroke="#000" stroke-width="2.8"/>
<circle cx="776.80" cy="960.10" r="8.0" fill="#fff" stroke="#000" stroke-width="2.8"/>
<circle cx="789.00" cy="962.80" r="8.0" fill="#fff" stroke="#000" stroke-width="2.8"/>
<circle cx="804.00" cy="962.80" r="8.0" fill="#fff" stroke="#000" stroke-width="2.8"/>
<circle cx="814.90" cy="957.40" r="8.0" fill="#fff" stroke="#000" stroke-width="2.8"/>
<circle cx="761.80" cy="969.60" r="8.0" fill="#fff" stroke="#000" stroke-width="2.8"/>
<circle cx="772.10" cy="972.40" r="8.0" fill="#fff" stroke="#000" stroke-width="2.8"/>
<circle cx="817.60" cy="973.70" r="8.0" fill="#fff" stroke="#000" stroke-width="2.8"/>
<circle cx="783.60" cy="975.10" r="8.0" fill="#fff" stroke="#000" stroke-width="2.8"/>
<circle cx="797.20" cy="975.10" r="8.0" fill="#fff" stroke="#000" stroke-width="2.8"/>
<circle cx="810.80" cy="975.10" r="8.0" fill="#fff" stroke="#000" stroke-width="2.8"/>
<circle cx="780.30" cy="990.10" r="8.0" fill="#fff" stroke="#000" stroke-width="2.8"/>
<circle cx="787.60" cy="999.60" r="8.0" fill="#fff" stroke="#000" stroke-width="2.8"/>
<circle cx="801.30" cy="999.60" r="8.0" fill="#fff" stroke="#000" stroke-width="2.8"/>
<circle cx="782.20" cy="1021.90" r="8.0" fill="#fff" stroke="#000" stroke-width="2.8"/>
<circle cx="790.40" cy="1020.80" r="8.0" fill="#fff" stroke="#000" stroke-width="2.8"/>
<circle cx="804.80" cy="1023.50" r="8.0" fill="#fff" stroke="#000" stroke-width="2.8"/>
<circle cx="802.60" cy="1033.60" r="8.0" fill="#fff" stroke="#000" stroke-width="2.8"/>
<circle cx="784.90" cy="1043.10" r="8.0" fill="#fff" stroke="#000" stroke-width="2.8"/>
<circle cx="793.10" cy="1047.20" r="8.0" fill="#fff" stroke="#000" stroke-width="2.8"/>
<circle cx="795.80" cy="1081.30" r="8.0" fill="#fff" stroke="#000" stroke-width="2.8"/>
<circle cx="804.80" cy="1079.90" r="8.0" fill="#fff" stroke="#000" stroke-width="2.8"/>
<circle cx="789.00" cy="1089.40" r="8.0" fill="#fff" stroke="#000" stroke-width="2.8"/>
<circle cx="783.00" cy="1106.30" r="8.0" fill="#fff" stroke="#000" stroke-width="2.8"/>
<circle cx="791.70" cy="1109.90" r="8.0" fill="#fff" stroke="#000" stroke-width="2.8"/>
<circle cx="789.00" cy="1123.50" r="8.0" fill="#fff" stroke="#000" stroke-width="2.8"/>
<circle cx="798.50" cy="1119.40" r="8.0" fill="#fff" stroke="#000" stroke-width="2.8"/>
<circle cx="938.70" cy="890.10" r="8.0" fill="#fff" stroke="#cc0c14" stroke-width="2.8"/>
<circle cx="960.20" cy="986.00" r="8.0" fill="#fff" stroke="#cc0c14" stroke-width="2.8"/>
<circle cx="938.70" cy="1001.80" r="8.0" fill="#fff" stroke="#cc0c14" stroke-width="2.8"/>
<circle cx="960.20" cy="1028.40" r="8.0" fill="#fff" stroke="#cc0c14" stroke-width="2.8"/>
<circle cx="938.70" cy="1035.30" r="8.0" fill="#fff" stroke="#cc0c14" stroke-width="2.8"/>
<circle cx="938.70" cy="1049.00" r="8.0" fill="#fff" stroke="#cc0c14" stroke-width="2.8"/>
<circle cx="938.70" cy="1061.90" r="8.0" fill="#fff" stroke="#cc0c14" stroke-width="2.8"/>
<circle cx="916.70" cy="1073.40" r="8.0" fill="#fff" stroke="#cc0c14" stroke-width="2.8"/>
<circle cx="938.70" cy="1069.10" r="8.0" fill="#fff" stroke="#cc0c14" stroke-width="2.8"/>
<circle cx="938.70" cy="1084.80" r="8.0" fill="#fff" stroke="#cc0c14" stroke-width="2.8"/>
<circle cx="960.20" cy="1078.20" r="8.0" fill="#fff" stroke="#cc0c14" stroke-width="2.8"/>
<circle cx="916.70" cy="1092.00" r="8.0" fill="#fff" stroke="#cc0c14" stroke-width="2.8"/>
<circle cx="916.70" cy="1100.60" r="8.0" fill="#fff" stroke="#cc0c14" stroke-width="2.8"/>
<circle cx="938.70" cy="1104.00" r="8.0" fill="#fff" stroke="#cc0c14" stroke-width="2.8"/>
<circle cx="916.70" cy="1108.60" r="8.0" fill="#fff" stroke="#cc0c14" stroke-width="2.8"/>
<circle cx="894.30" cy="1160.10" r="8.0" fill="#fff" stroke="#cc0c14" stroke-width="2.8"/>
<circle cx="916.70" cy="1165.00" r="8.0" fill="#fff" stroke="#cc0c14" stroke-width="2.8"/>
<circle cx="938.70" cy="1162.20" r="8.0" fill="#fff" stroke="#cc0c14" stroke-width="2.8"/>
<circle cx="960.20" cy="1163.00" r="8.0" fill="#fff" stroke="#cc0c14" stroke-width="2.8"/>
<circle cx="981.70" cy="1161.60" r="8.0" fill="#fff" stroke="#cc0c14" stroke-width="2.8"/>
<circle cx="928.70" cy="1222.30" r="8.0" fill="#fff" stroke="#cc0c14" stroke-width="2.8"/>
<circle cx="948.70" cy="1222.30" r="8.0" fill="#fff" stroke="#cc0c14" stroke-width="2.8"/>
<circle cx="938.70" cy="1240.90" r="8.0" fill="#fff" stroke="#cc0c14" stroke-width="2.8"/>
<line x1="707.00" y1="1312.50" x2="1019.50" y2="1312.50" stroke="#000" stroke-width="3.6" stroke-linecap="butt"/>
<text x="792.50" y="1306.00" font-size="37" text-anchor="middle" font-weight="normal" font-style="normal" fill="#fff">&gt;20</text>
<text x="939.00" y="1306.00" font-size="37" text-anchor="middle" font-weight="normal" font-style="normal" fill="#fff">&gt;20</text>
<polyline points="790.70,760.40 790.70,755.90 937.40,755.90 937.40,760.40" fill="none" stroke="#000" stroke-width="2.1"/>
<text x="862.30" y="752.40" font-size="21.5" text-anchor="middle"><tspan font-style="italic">P</tspan>&lt;0.0001</text>
<text x="790.40" y="1360.60" font-size="38" text-anchor="middle" font-weight="normal" font-style="italic" fill="#000">A/PS</text>
<text x="939.80" y="1360.60" font-size="38" text-anchor="middle" font-weight="normal" font-style="italic" fill="#000">A/PS</text>
<text x="941.8" y="1394.5" font-size="38" font-style="italic" text-anchor="middle">A/M<tspan dy="-5">-/-</tspan></text>
<text x="1057.00" y="754.00" font-size="61" text-anchor="start" font-weight="bold" font-style="normal" fill="#000">e</text>
<line x1="1269.40" y1="776.65" x2="1269.40" y2="1316.10" stroke="#000" stroke-width="3.7" stroke-linecap="butt"/>
<line x1="1248.00" y1="778.40" x2="1269.40" y2="778.40" stroke="#000" stroke-width="3.7" stroke-linecap="butt"/>
<text x="1245.00" y="796.90" font-size="44" text-anchor="end" font-weight="normal" font-style="normal" fill="#000">500</text>
<line x1="1248.00" y1="885.04" x2="1269.40" y2="885.04" stroke="#000" stroke-width="3.7" stroke-linecap="butt"/>
<line x1="1248.00" y1="991.68" x2="1269.40" y2="991.68" stroke="#000" stroke-width="3.7" stroke-linecap="butt"/>
<text x="1245.00" y="1006.18" font-size="44" text-anchor="end" font-weight="normal" font-style="normal" fill="#000">300</text>
<line x1="1248.00" y1="1098.32" x2="1269.40" y2="1098.32" stroke="#000" stroke-width="3.7" stroke-linecap="butt"/>
<line x1="1248.00" y1="1204.96" x2="1269.40" y2="1204.96" stroke="#000" stroke-width="3.7" stroke-linecap="butt"/>
<text x="1245.00" y="1219.46" font-size="44" text-anchor="end" font-weight="normal" font-style="normal" fill="#000">100</text>
<text x="1120.00" y="1046.00" font-size="39.5" text-anchor="middle" font-weight="normal" font-style="normal" fill="#000" transform="rotate(-90 1120.00 1046.00)">microglia number /</text>
<text x="1163.30" y="1045.30" font-size="39.5" text-anchor="middle" font-weight="normal" font-style="normal" fill="#000" transform="rotate(-90 1163.30 1045.30)">normalized volume</text>
<rect x="1318.90" y="919.70" width="70.10" height="394.50" fill="#999999" stroke="#000" stroke-width="3.6"/>
<rect x="1432.70" y="1143.00" width="70.30" height="171.30" fill="#ff6f6f" stroke="#e10505" stroke-width="3.4"/>
<line x1="1353.95" y1="873.50" x2="1353.95" y2="960.30" stroke="#000" stroke-width="2.8" stroke-linecap="butt"/>
<line x1="1326.95" y1="873.50" x2="1380.95" y2="873.50" stroke="#000" stroke-width="2.8" stroke-linecap="butt"/>
<line x1="1326.95" y1="960.30" x2="1380.95" y2="960.30" stroke="#000" stroke-width="2.8" stroke-linecap="butt"/>
<line x1="1467.85" y1="1123.80" x2="1467.85" y2="1159.70" stroke="#cc0c14" stroke-width="2.7" stroke-linecap="butt"/>
<line x1="1440.85" y1="1123.80" x2="1494.85" y2="1123.80" stroke="#cc0c14" stroke-width="2.7" stroke-linecap="butt"/>
<line x1="1440.85" y1="1159.70" x2="1494.85" y2="1159.70" stroke="#cc0c14" stroke-width="2.7" stroke-linecap="butt"/>
<circle cx="1355.10" cy="877.00" r="8.0" fill="#fff" stroke="#000" stroke-width="2.8"/>
<circle cx="1355.10" cy="911.90" r="8.0" fill="#fff" stroke="#000" stroke-width="2.8"/>
<circle cx="1355.10" cy="961.80" r="8.0" fill="#fff" stroke="#000" stroke-width="2.8"/>
<circle cx="1452.90" cy="1112.80" r="8.0" fill="#fff" stroke="#cc0c14" stroke-width="2.8"/>
<circle cx="1483.80" cy="1127.80" r="8.0" fill="#fff" stroke="#cc0c14" stroke-width="2.8"/>
<circle cx="1467.80" cy="1139.80" r="8.0" fill="#fff" stroke="#cc0c14" stroke-width="2.8"/>
<circle cx="1483.80" cy="1156.20" r="8.0" fill="#fff" stroke="#cc0c14" stroke-width="2.8"/>
<circle cx="1454.90" cy="1166.20" r="8.0" fill="#fff" stroke="#cc0c14" stroke-width="2.8"/>
<text x="1351.50" y="1360.60" font-size="38" text-anchor="middle" font-weight="normal" font-style="italic" fill="#000">A/PS</text>
<text x="1472.30" y="1360.60" font-size="38" text-anchor="middle" font-weight="normal" font-style="italic" fill="#000">A/PS</text>
<text x="1474.0" y="1394.5" font-size="38" font-style="italic" text-anchor="middle">A/M<tspan dy="-5">-/-</tspan></text>
<rect x="1603.70" y="1194.70" width="69.60" height="119.50" fill="#999999" stroke="#000" stroke-width="3.6"/>
<rect x="1717.30" y="1219.90" width="69.70" height="94.40" fill="#ff6f6f" stroke="#e10505" stroke-width="3.4"/>
<line x1="1638.50" y1="1148.90" x2="1638.50" y2="1238.20" stroke="#000" stroke-width="2.8" stroke-linecap="butt"/>
<line x1="1611.50" y1="1148.90" x2="1665.50" y2="1148.90" stroke="#000" stroke-width="2.8" stroke-linecap="butt"/>
<line x1="1611.50" y1="1238.20" x2="1665.50" y2="1238.20" stroke="#000" stroke-width="2.8" stroke-linecap="butt"/>
<line x1="1752.15" y1="1191.20" x2="1752.15" y2="1239.60" stroke="#cc0c14" stroke-width="2.7" stroke-linecap="butt"/>
<line x1="1725.15" y1="1191.20" x2="1779.15" y2="1191.20" stroke="#cc0c14" stroke-width="2.7" stroke-linecap="butt"/>
<line x1="1725.15" y1="1239.60" x2="1779.15" y2="1239.60" stroke="#cc0c14" stroke-width="2.7" stroke-linecap="butt"/>
<circle cx="1639.70" cy="1137.10" r="8.0" fill="#fff" stroke="#000" stroke-width="2.8"/>
<circle cx="1639.70" cy="1207.60" r="8.0" fill="#fff" stroke="#000" stroke-width="2.8"/>
<circle cx="1639.70" cy="1221.70" r="8.0" fill="#fff" stroke="#000" stroke-width="2.8"/>
<circle cx="1735.10" cy="1174.70" r="8.0" fill="#fff" stroke="#cc0c14" stroke-width="2.8"/>
<circle cx="1768.00" cy="1210.00" r="8.0" fill="#fff" stroke="#cc0c14" stroke-width="2.8"/>
<circle cx="1751.50" cy="1220.30" r="8.0" fill="#fff" stroke="#cc0c14" stroke-width="2.8"/>
<circle cx="1768.00" cy="1231.10" r="8.0" fill="#fff" stroke="#cc0c14" stroke-width="2.8"/>
<circle cx="1739.80" cy="1245.20" r="8.0" fill="#fff" stroke="#cc0c14" stroke-width="2.8"/>
<text x="1639.00" y="1360.60" font-size="38" text-anchor="middle" font-weight="normal" font-style="italic" fill="#000">A/PS</text>
<text x="1759.00" y="1360.60" font-size="38" text-anchor="middle" font-weight="normal" font-style="italic" fill="#000">A/PS</text>
<text x="1760.5" y="1394.5" font-size="38" font-style="italic" text-anchor="middle">A/M<tspan dy="-5">-/-</tspan></text>
<rect x="1888.00" y="922.70" width="69.80" height="391.50" fill="#999999" stroke="#000" stroke-width="3.6"/>
<rect x="2001.80" y="1008.60" width="69.70" height="305.70" fill="#ff6f6f" stroke="#e10505" stroke-width="3.4"/>
<line x1="1922.90" y1="851.90" x2="1922.90" y2="989.10" stroke="#000" stroke-width="2.8" stroke-linecap="butt"/>
<line x1="1895.90" y1="851.90" x2="1949.90" y2="851.90" stroke="#000" stroke-width="2.8" stroke-linecap="butt"/>
<line x1="1895.90" y1="989.10" x2="1949.90" y2="989.10" stroke="#000" stroke-width="2.8" stroke-linecap="butt"/>
<line x1="2036.65" y1="952.90" x2="2036.65" y2="1062.90" stroke="#cc0c14" stroke-width="2.7" stroke-linecap="butt"/>
<line x1="2009.65" y1="952.90" x2="2063.65" y2="952.90" stroke="#cc0c14" stroke-width="2.7" stroke-linecap="butt"/>
<line x1="2009.65" y1="1062.90" x2="2063.65" y2="1062.90" stroke="#cc0c14" stroke-width="2.7" stroke-linecap="butt"/>
<circle cx="1924.00" cy="851.90" r="8.0" fill="#fff" stroke="#000" stroke-width="2.8"/>
<circle cx="1924.00" cy="920.90" r="8.0" fill="#fff" stroke="#000" stroke-width="2.8"/>
<circle cx="1924.00" cy="988.10" r="8.0" fill="#fff" stroke="#000" stroke-width="2.8"/>
<circle cx="2036.80" cy="924.70" r="8.0" fill="#fff" stroke="#cc0c14" stroke-width="2.8"/>
<circle cx="2036.80" cy="991.40" r="8.0" fill="#fff" stroke="#cc0c14" stroke-width="2.8"/>
<circle cx="2018.00" cy="1013.50" r="8.0" fill="#fff" stroke="#cc0c14" stroke-width="2.8"/>
<circle cx="2053.70" cy="1013.50" r="8.0" fill="#fff" stroke="#cc0c14" stroke-width="2.8"/>
<circle cx="2036.80" cy="1076.00" r="8.0" fill="#fff" stroke="#cc0c14" stroke-width="2.8"/>
<text x="1921.80" y="1360.60" font-size="38" text-anchor="middle" font-weight="normal" font-style="italic" fill="#000">A/PS</text>
<text x="2042.00" y="1360.60" font-size="38" text-anchor="middle" font-weight="normal" font-style="italic" fill="#000">A/PS</text>
<text x="2044.0" y="1394.5" font-size="38" font-style="italic" text-anchor="middle">A/M<tspan dy="-5">-/-</tspan></text>
<line x1="1267.60" y1="1314.30" x2="2120.00" y2="1314.30" stroke="#000" stroke-width="3.6" stroke-linecap="butt"/>
<text x="1402.00" y="813.20" font-size="39.5" text-anchor="middle" font-weight="normal" font-style="normal" fill="#000" textLength="132" lengthAdjust="spacingAndGlyphs">0-10µm</text>
<text x="1692.30" y="1086.60" font-size="39.5" text-anchor="middle" font-weight="normal" font-style="normal" fill="#000" textLength="151.8" lengthAdjust="spacingAndGlyphs">10-20µm</text>
<text x="1977.00" y="799.20" font-size="39.5" text-anchor="middle" font-weight="normal" font-style="normal" fill="#000" textLength="119.9" lengthAdjust="spacingAndGlyphs">&gt;20µm</text>
<polyline points="1352.60,857.10 1352.60,851.10 1469.00,851.10 1469.00,857.10" fill="none" stroke="#000" stroke-width="2.1"/>
<text x="1410.60" y="845.80" font-size="21.5" text-anchor="middle"><tspan font-style="italic">P</tspan>&lt;0.0001</text>
<polyline points="1637.80,1120.60 1637.80,1114.60 1753.00,1114.60 1753.00,1120.60" fill="none" stroke="#000" stroke-width="2.1"/>
<text x="1700.70" y="1110.30" font-size="21.5" text-anchor="middle" font-weight="normal" font-style="normal" fill="#000">n.s.</text>
<polyline points="1923.00,839.10 1923.00,833.10 2038.20,833.10 2038.20,839.10" fill="none" stroke="#000" stroke-width="2.1"/>
<text x="1984.20" y="829.30" font-size="21.5" text-anchor="middle"><tspan font-style="italic">P</tspan>=0.0277</text></svg></body></html>
